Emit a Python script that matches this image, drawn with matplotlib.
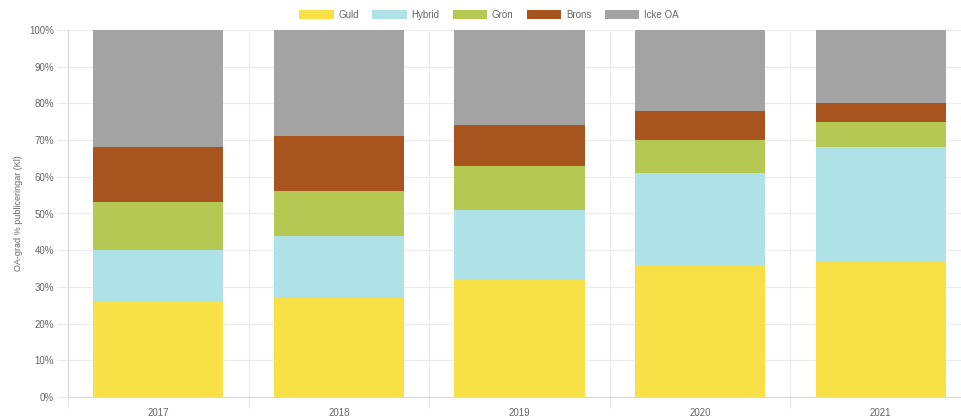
import matplotlib
matplotlib.use('Agg')
import matplotlib.pyplot as plt
import numpy as np

plt.rcParams['font.family'] = ['Liberation Sans', 'DejaVu Sans']

years = ['2017', '2018', '2019', '2020', '2021']
series_names = ['Guld', 'Hybrid', 'Grön', 'Brons', 'Icke OA']
guld = [26, 27, 32, 36, 37]
hybrid = [14, 17, 19, 25, 31]
gron = [13, 12, 12, 9, 7]
brons = [15, 15, 11, 8, 5]
icke_oa = [32, 29, 26, 22, 20]
colors = ['#f8e146', '#aee2e6', '#b5c854', '#a8541e', '#a3a3a3']

fig = plt.figure(figsize=(9.61, 4.19), dpi=100)
ax = fig.add_axes([68/961, 22/419, (971-68)/961, (397-30)/419])

x = np.arange(len(years))
bottom = np.zeros(len(years))
for name, vals, c in zip(series_names, [guld, hybrid, gron, brons, icke_oa], colors):
    ax.bar(x, vals, 0.72, bottom=bottom, color=c, label=name, zorder=2)
    bottom += np.array(vals)

ax.set_xlim(-0.5, len(years) - 0.5)
ax.set_ylim(0, 100)
ax.set_yticks(range(0, 101, 10))
ax.set_yticklabels([f'{v}%' for v in range(0, 101, 10)])
ax.set_xticks(x)
ax.set_xticklabels(years)
ax.set_xticks(np.arange(-0.5, len(years), 1), minor=True)

grid_c = '#e6e6e6'
ax.grid(axis='y', color='#ececec', lw=0.8, zorder=0)
ax.grid(axis='x', which='minor', color='#ececec', lw=0.8, zorder=0)
ax.tick_params(axis='x', which='major', length=0, pad=8, labelsize=7, labelcolor='#666666')
ax.tick_params(axis='x', which='minor', length=8, color=grid_c, width=0.8)
ax.tick_params(axis='y', length=8, color='#ececec', width=0.8, pad=2, labelsize=7, labelcolor='#666666')
for s in ['top', 'right']:
    ax.spines[s].set_visible(False)
ax.spines['left'].set_color('#d9d9d9')
ax.spines['bottom'].set_color('#d9d9d9')
ax.spines['left'].set_linewidth(0.8)
ax.spines['bottom'].set_linewidth(0.8)

ax.set_ylabel('OA-grad % publiceringar (Kl)', fontsize=6.5, color='#666666')
ax.yaxis.set_label_coords(-0.05, 0.5)

leg = fig.legend(loc='center', bbox_to_anchor=(489/961, 1 - 15/419), ncol=5, frameon=False,
                 fontsize=7, handlelength=3.5, handleheight=1.0, columnspacing=1.4,
                 handletextpad=0.5, labelcolor='#666666')

fig.savefig('out.png', dpi=100)
